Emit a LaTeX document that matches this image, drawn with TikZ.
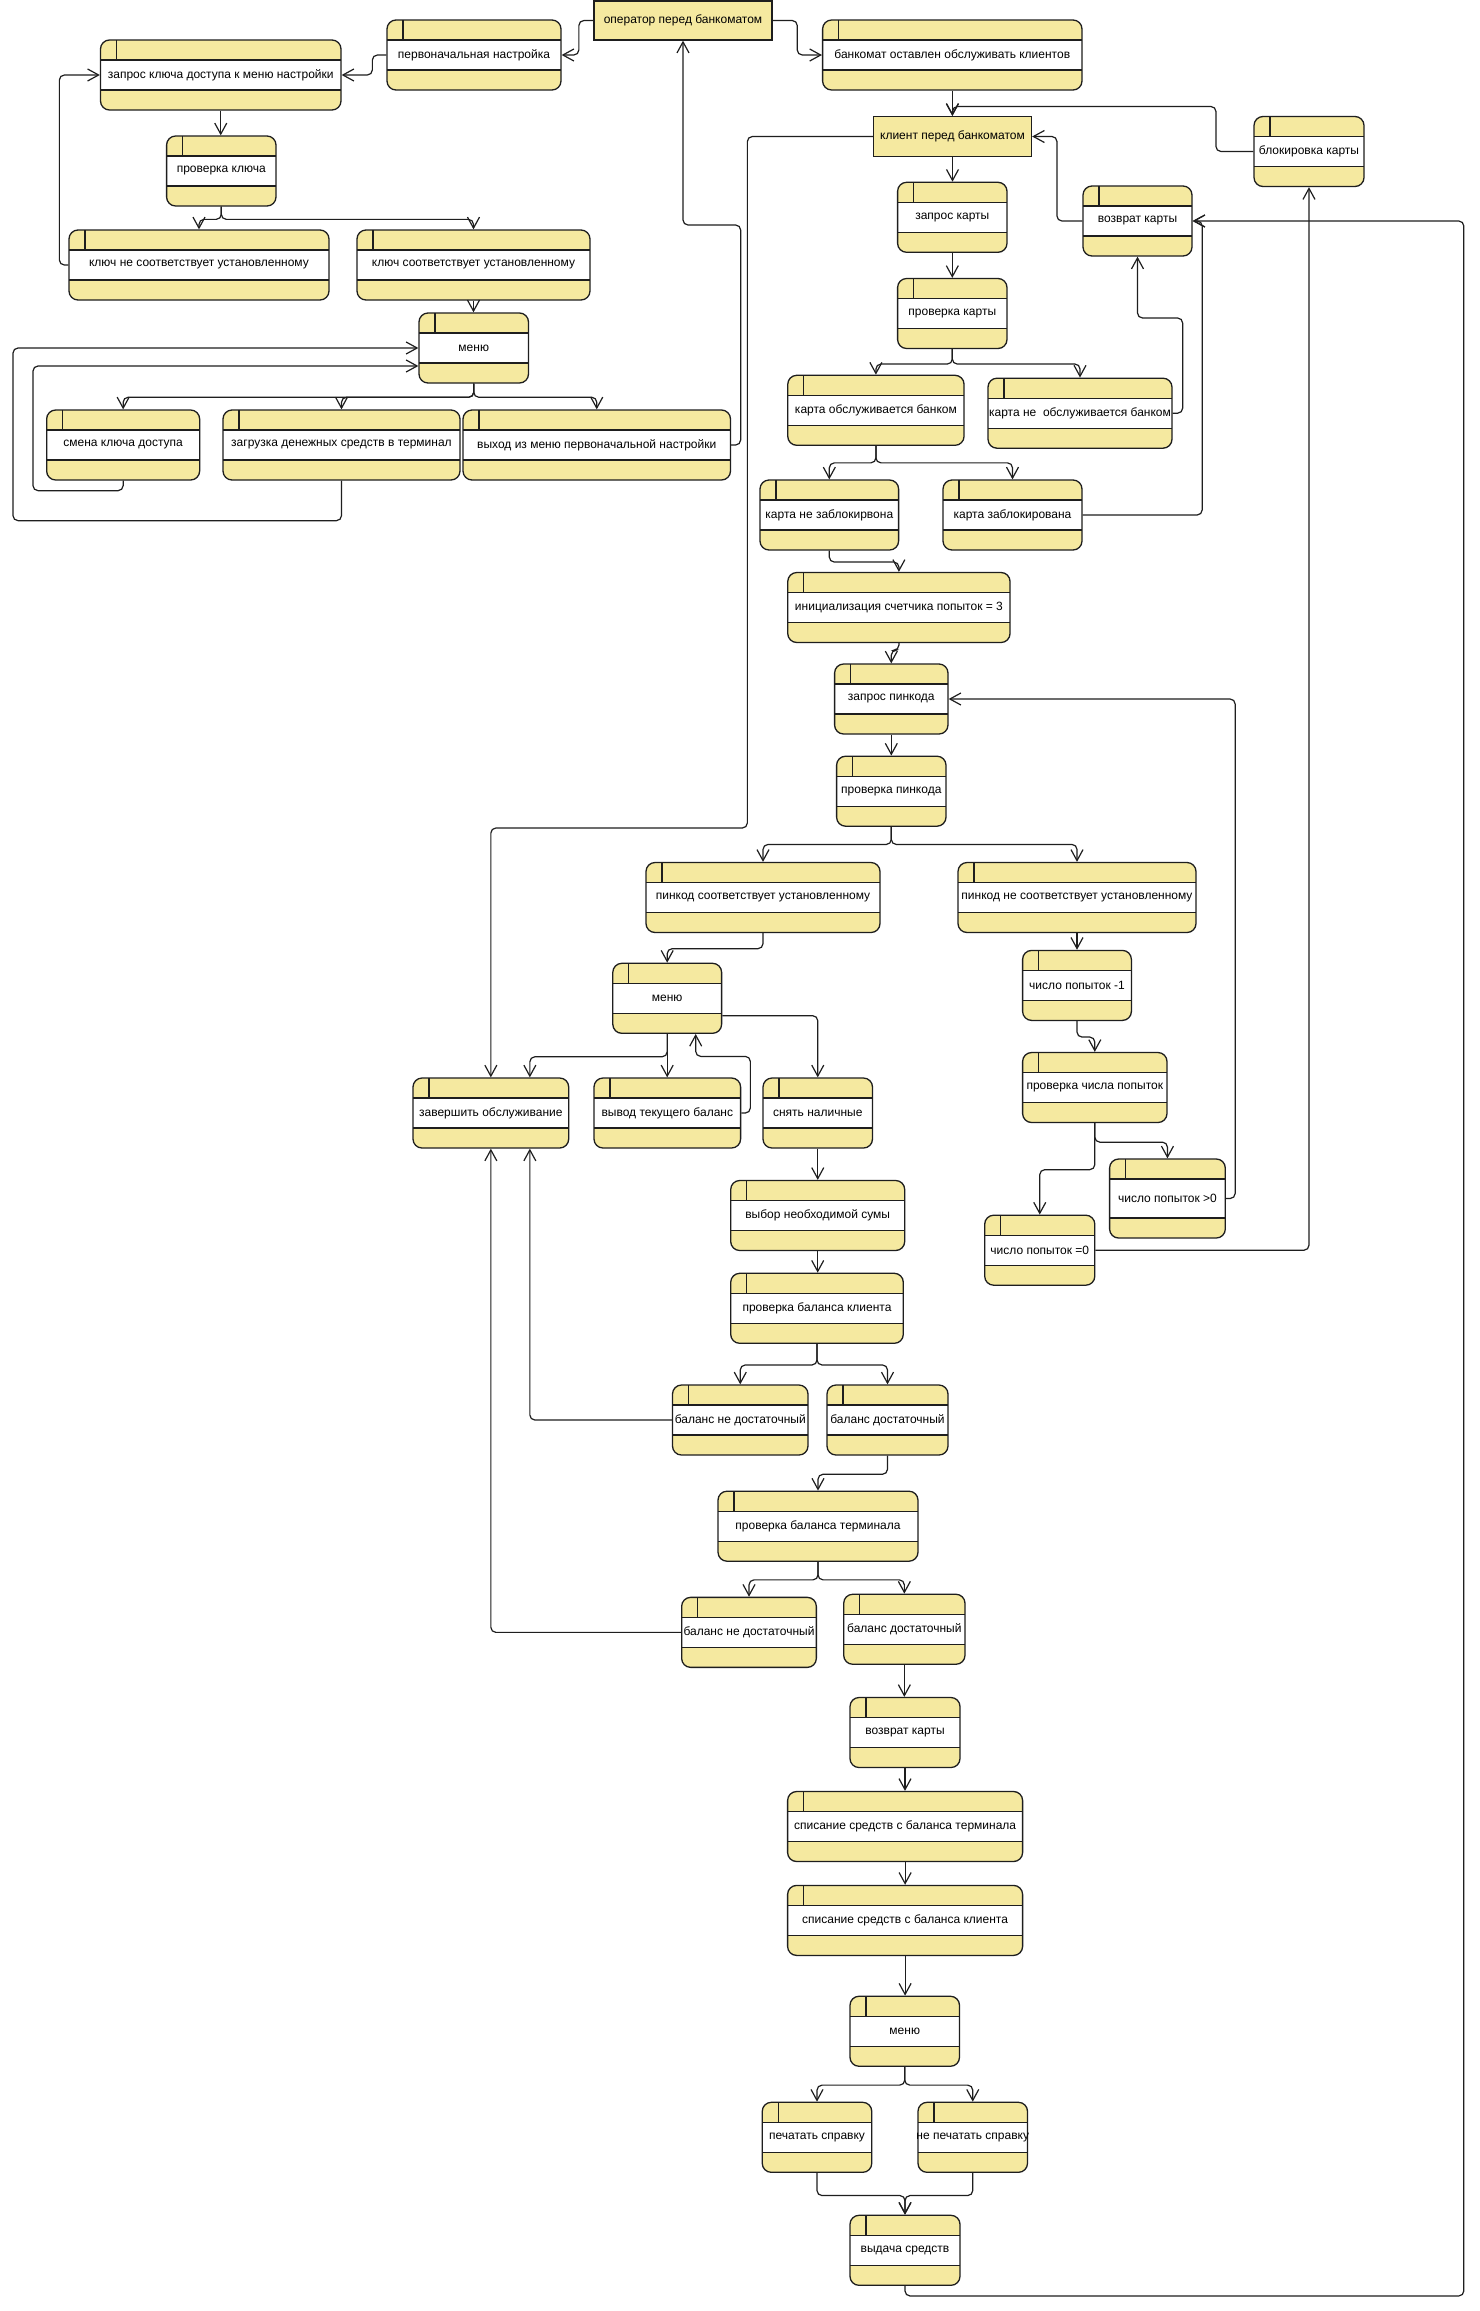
\documentclass[tikz,border=0pt]{standalone}
\usepackage{fontspec}
\setmainfont{Liberation Sans}
\usetikzlibrary{arrows.meta}
\definecolor{yf}{RGB}{245,233,160}
\definecolor{lc}{RGB}{30,30,30}
\def\bandhalf{15pt}
\newcommand{\zt}[1]{\makebox[0pt]{#1}}
\tikzset{
  bh/.code={\def\bandhalf{#1}},
  act/.style={draw=lc, line width=1.3pt, fill=yf, rounded corners=9pt,
    minimum height=70pt, inner sep=0pt, font=\fontsize{12}{14}\selectfont,
    path picture={
      \fill[white, sharp corners] ([yshift=\bandhalf]path picture bounding box.west) rectangle ([yshift=-\bandhalf]path picture bounding box.east);
      \draw[lc, line width=1.3pt, sharp corners] ([yshift=\bandhalf]path picture bounding box.west) -- ([yshift=\bandhalf]path picture bounding box.east);
      \draw[lc, line width=1.3pt, sharp corners] ([yshift=-\bandhalf]path picture bounding box.west) -- ([yshift=-\bandhalf]path picture bounding box.east);
      \draw[lc, line width=1.1pt, sharp corners] ([xshift=16pt]path picture bounding box.north west) -- ([xshift=16pt,yshift=-20pt]path picture bounding box.north west);
    }},
  plain/.style={draw=lc, line width=1.3pt, fill=yf, inner sep=0pt, font=\fontsize{12}{14}\selectfont},
  arr/.style={draw=lc, line width=1.2pt, rounded corners=5pt, -{Straight Barb[length=11pt,width=12pt]}},
}
\begin{document}
\begin{tikzpicture}[x=1pt,y=-1pt]
\fill[white] (0,0) rectangle (1480,2311);
\useasboundingbox (0,0) rectangle (1480,2311);

% ---- operator part
\node[plain, minimum width=178pt, minimum height=39pt] (op) at (683,20.5) {\zt{оператор перед банкоматом}};
\node[act, minimum width=174pt] (pn) at (474,55) {\zt{первоначальная настройка}};
\node[act, minimum width=240.5pt] (zk) at (220.75,75) {\zt{запрос ключа доступа к меню настройки}};
\node[act, minimum width=109.4pt] (pk) at (221.3,171) {\zt{проверка ключа}};
\node[act, minimum width=260pt] (kn) at (199,265) {\zt{ключ не соответствует установленному}};
\node[act, minimum width=233pt] (ks) at (473.5,265) {\zt{ключ соответствует установленному}};
\node[act, minimum width=109.5pt] (m1) at (473.75,348) {\zt{меню}};
\node[act, minimum width=153pt] (sk) at (123.15,445) {\zt{смена ключа доступа}};
\node[act, minimum width=237pt] (zd) at (341.5,445) {\zt{загрузка денежных средств в терминал}};
\node[act, minimum width=267.5pt] (vm) at (596.75,445) {\zt{выход из меню первоначальной настройки}};

% ---- client part
\node[act, minimum width=259.4pt] (bo) at (952.3,55) {\zt{банкомат оставлен обслуживать клиентов}};
\node[plain, minimum width=158pt, minimum height=40pt] (kl) at (952.5,136.5) {\zt{клиент перед банкоматом}};
\node[act, minimum width=110pt] (bk) at (1309,151.5) {\zt{блокировка карты}};
\node[act, minimum width=109.4pt] (zkr) at (952.3,217.3) {\zt{запрос карты}};
\node[act, minimum width=109pt] (vk1) at (1137.5,221) {\zt{возврат карты}};
\node[act, minimum width=109.4pt] (pkr) at (952.3,313.5) {\zt{проверка карты}};
\node[act, minimum width=176.3pt] (ko) at (875.9,410.3) {\zt{карта обслуживается банком}};
\node[act, minimum width=184pt] (kno) at (1080,413.2) {\zt{карта не\ \ обслуживается банком}};
\node[act, minimum width=138.6pt] (knz) at (829.3,515) {\zt{карта не заблокирвона}};
\node[act, minimum width=139pt] (kz) at (1012.5,515) {\zt{карта заблокирована}};
\node[act, minimum width=222.3pt] (ini) at (898.9,607.5) {\zt{инициализация счетчика попыток = 3}};
\node[act, minimum width=113.4pt] (zp) at (891.3,699) {\zt{запрос пинкода}};
\node[act, minimum width=109.4pt] (pp) at (891.3,791.2) {\zt{проверка пинкода}};
\node[act, minimum width=234pt] (ps) at (763,897.5) {\zt{пинкод соответствует установленному}};
\node[act, minimum width=238pt] (pns) at (1077,897.5) {\zt{пинкод не соответствует установленному}};
\node[act, minimum width=108.8pt] (m2) at (667.2,998.3) {\zt{меню}};
\node[act, minimum width=108.8pt] (ch1) at (1077,985.4) {\zt{число попыток -1}};
\node[act, minimum width=155.7pt] (zo) at (490.85,1113) {\zt{завершить обслуживание}};
\node[act, minimum width=146.6pt] (vt) at (667.3,1113) {\zt{вывод текущего баланс}};
\node[act, minimum width=109.5pt] (sn) at (817.75,1113) {\zt{снять наличные}};
\node[act, minimum width=144.4pt] (pch) at (1094.8,1087.5) {\zt{проверка числа попыток}};
\node[act, minimum width=115.7pt, minimum height=79pt, bh=19.5pt] (chg) at (1167.45,1198.5) {\zt{число попыток >0}};
\node[act, minimum width=110.1pt] (ch0) at (1039.75,1250.2) {\zt{число попыток =0}};
\node[act, minimum width=174pt] (vs) at (817.7,1215.5) {\zt{выбор необходимой сумы}};
\node[act, minimum width=172.6pt] (pbk) at (817,1308.3) {\zt{проверка баланса клиента}};
\node[act, minimum width=135.5pt] (bn1) at (740.25,1420) {\zt{баланс не достаточный}};
\node[act, minimum width=121pt] (bd1) at (887.5,1420) {\zt{баланс достаточный}};
\node[act, minimum width=200pt] (pbt) at (818,1526.2) {\zt{проверка баланса терминала}};
\node[act, minimum width=134.7pt] (bn2) at (749,1632.35) {\zt{баланс не достаточный}};
\node[act, minimum width=121.3pt] (bd2) at (904.35,1629.25) {\zt{баланс достаточный}};
\node[act, minimum width=110pt] (vk2) at (905,1732.5) {\zt{возврат карты}};
\node[act, minimum width=235pt] (st) at (905.1,1826.5) {\zt{списание средств с баланса терминала}};
\node[act, minimum width=235pt] (sc) at (905.1,1920.4) {\zt{списание средств с баланса клиента}};
\node[act, minimum width=109.5pt] (m3) at (904.75,2031.25) {\zt{меню}};
\node[act, minimum width=109.5pt] (ps1) at (817,2137.3) {\zt{печатать справку}};
\node[act, minimum width=109.5pt] (nps) at (972.75,2137.3) {\zt{не печатать справку}};
\node[act, minimum width=110pt] (vyd) at (905,2250.3) {\zt{выдача средств}};

% ---- connectors: operator part
\draw[arr] (op.west) -- ++(-14.5,0) |- (pn.east);
\draw[arr] (op.east) -- ++(24.6,0) |- (bo.west);
\draw[arr] (pn.west) -- ++(-14,0) |- (zk.east);
\draw[arr] (zk.south) -- (zk.south |- pk.north);
\draw[arr] (pk.south) -- ++(0,12.7) -| (kn.north);
\draw[arr] (pk.south) -- ++(0,12.7) -| (ks.north);
\draw[arr] (kn.west) -- ++(-9,0) |- (zk.west);
\draw[arr] (ks.south) -- (ks.south |- m1.north);
\draw[arr] (m1.south) -- ++(0,13.6) -| (sk.north);
\draw[arr] (m1.south) -- ++(0,13.6) -| (zd.north);
\draw[arr] (m1.south) -- ++(0,13.6) -| (vm.north);
\draw[arr] (sk.south) -- ++(0,10) -- ++(-90.15,0) |- ([yshift=-18pt]m1.west);
\draw[arr] (zd.south) -- ++(0,40) -- ++(-328.5,0) |- (m1.west);
\draw[arr] (vm.east) -- ++(9.5,0) -- ++(0,-220) -| (op.south);

% ---- connectors: client part
\draw[arr] (bo.south) -- (bo.south |- kl.north);
\draw[arr] (bk.west) -- ++(-37.4,0) -- ++(0,-45) -| (kl.north);
\draw[arr] (kl.west) -- ++(-125.5,0) -- ++(0,691.5) -| (zo.north);
\draw[arr] (kl.south) -- (kl.south |- zkr.north);
\draw[arr] (zkr.south) -- (zkr.south |- pkr.north);
\draw[arr] (pkr.south) -- ++(0,14.9) -| (ko.north);
\draw[arr] (pkr.south) -- ++(0,14.9) -| (kno.north);
\draw[arr] (kno.east) -- ++(10,0) -- ++(0,-95.2) -| (vk1.south);
\draw[arr] (vk1.west) -- ++(-25.4,0) |- (kl.east);
\draw[arr] (ko.south) -- ++(0,16.9) -| (knz.north);
\draw[arr] (ko.south) -- ++(0,16.9) -| (kz.north);
\draw[arr] (kz.east) -- ++(119.5,0) |- (vk1.east);
\draw[arr] (knz.south) -- ++(0,11.4) -| (ini.north);
\draw[arr] (ini.south) -- ++(0,7) -| (zp.north);
\draw[arr] (zp.south) -- (zp.south |- pp.north);
\draw[arr] (pp.south) -- ++(0,17.6) -| (ps.north);
\draw[arr] (pp.south) -- ++(0,17.6) -| (pns.north);
\draw[arr] (ps.south) -- ++(0,15.5) -| (m2.north);
\draw[arr] (pns.south) -- (pns.south |- ch1.north);
\draw[arr] (ch1.south) -- ++(0,16) -| (pch.north);
\draw[arr] (pch.south) -- ++(0,19) -| (chg.north);
\draw[arr] (pch.south) -- ++(0,46.5) -| (ch0.north);
\draw[arr] (chg.east) -- ++(9.2,0) |- (zp.east);
\draw[arr] (ch0.east) -| (bk.south);
\draw[arr] (m2.south) -- ++(0,22.8) -| ([xshift=39pt]zo.north);
\draw[arr] (m2.south) -- (m2.south |- vt.north);
\draw[arr] (vt.east) -- ++(9.1,0) -- ++(0,-56.6) -| ([xshift=28.5pt]m2.south);
\draw[arr] ([yshift=-17.4pt]m2.east) -| (sn.north);
\draw[arr] (sn.south) -- (sn.south |- vs.north);
\draw[arr] (vs.south) -- (vs.south |- pbk.north);
\draw[arr] (pbk.south) -- ++(0,21) -| (bn1.north);
\draw[arr] (pbk.south) -- ++(0,21) -| (bd1.north);
\draw[arr] (bn1.west) -| ([xshift=39pt]zo.south);
\draw[arr] (bd1.south) -- ++(0,18.6) -| (pbt.north);
\draw[arr] (pbt.south) -- ++(0,18) -| (bn2.north);
\draw[arr] (pbt.south) -- ++(0,18) -| (bd2.north);
\draw[arr] (bn2.west) -| (zo.south);
\draw[arr] (bd2.south) -- (bd2.south |- vk2.north);
\draw[arr] (vk2.south) -- (vk2.south |- st.north);
\draw[arr] (st.south) -- (st.south |- sc.north);
\draw[arr] (sc.south) -- (sc.south |- m3.north);
\draw[arr] (m3.south) -- ++(0,18.2) -| (ps1.north);
\draw[arr] (m3.south) -- ++(0,18.2) -| (nps.north);
\draw[arr] (ps1.south) -- ++(0,22.6) -| (vyd.north);
\draw[arr] (nps.south) -- ++(0,22.6) -| (vyd.north);
\draw[arr] (vyd.south) -- ++(0,10) -- ++(558.8,0) |- (vk1.east);
\end{tikzpicture}
\end{document}
